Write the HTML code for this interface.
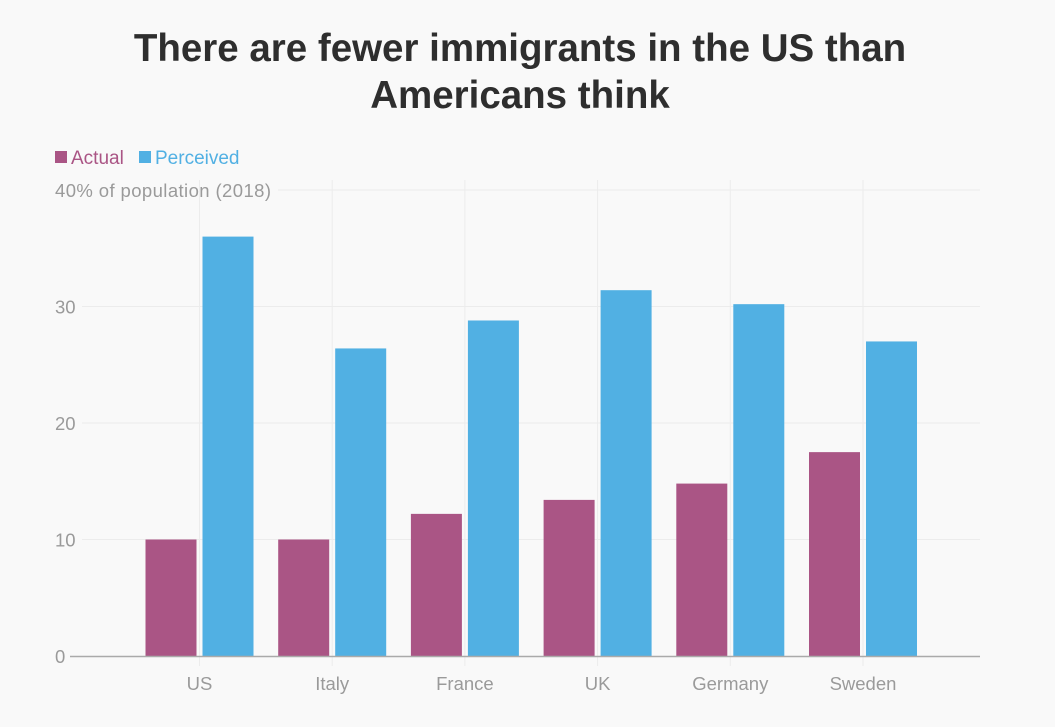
<!DOCTYPE html>
<html><head><meta charset="utf-8"><style>
body{margin:0;background:#f9f9f9;font-family:"Liberation Sans",sans-serif;}
#t{position:absolute;left:0;width:1040px;top:25px;text-align:center;font-weight:bold;font-size:38.5px;line-height:47px;color:#2e2e2e;letter-spacing:0px}
</style></head><body>
<div id="t">There are fewer immigrants in the US than<br>Americans think</div>
<svg id="c" width="1055" height="727" style="position:absolute;left:0;top:0">
<g>
<rect x="55" y="151" width="12" height="12" fill="#aa5585"/>
<text x="71" y="164" font-size="19" fill="#aa5585">Actual</text>
<rect x="139" y="151" width="12" height="12" fill="#51b0e3"/>
<text x="155" y="164" font-size="19" fill="#51b0e3">Perceived</text>
</g>
</svg>
<script>
const categories=["US","Italy","France","UK","Germany","Sweden"];
const actual=[10,10,12.2,13.4,14.8,17.5];
const perceived=[36,26.4,28.8,31.4,30.2,27];
const yTicks=[0,10,20,30,40];
const ns="http://www.w3.org/2000/svg",svg=document.getElementById('c');
const y=v=>656-v*11.65, xc=i=>199.5+i*132.7;
function mk(t,a){const e=document.createElementNS(ns,t);for(const k in a)e.setAttribute(k,a[k]);svg.appendChild(e);return e;}
categories.forEach((c,i)=>{
 const g=mk('line',{x1:xc(i),x2:xc(i),y1:180,y2:666,stroke:'#ececec'});
 
 
});
yTicks.forEach(v=>{
 if(v>0){const l=mk('line',{x1:v==40?278:82,x2:980,y1:y(v),y2:y(v),stroke:'#ececec'});
 
 }
 const t=mk('text',{x:55,y:y(v)+7,'font-size':18.5,fill:'#9a9a9a'});
 t.textContent=v==40?'40% of population (2018)':v;
 if(v==40)t.setAttribute('textLength','216');
 
 
});
categories.forEach((c,i)=>{
 const a=mk('rect',{x:xc(i)-54,y:y(actual[i]),width:51,height:656-y(actual[i]),fill:'#aa5585'});
 
 
 const p=mk('rect',{x:xc(i)+3,y:y(perceived[i]),width:51,height:656-y(perceived[i]),fill:'#51b0e3'});
 
 
 const t=mk('text',{x:xc(i),y:690,'font-size':18.5,fill:'#9a9a9a','text-anchor':'middle'});
 t.textContent=c;
 
 
});
const ax=mk('line',{x1:70,x2:980,y1:656.5,y2:656.5,stroke:'#aaa','stroke-width':1.5});


</script>
</body></html>
